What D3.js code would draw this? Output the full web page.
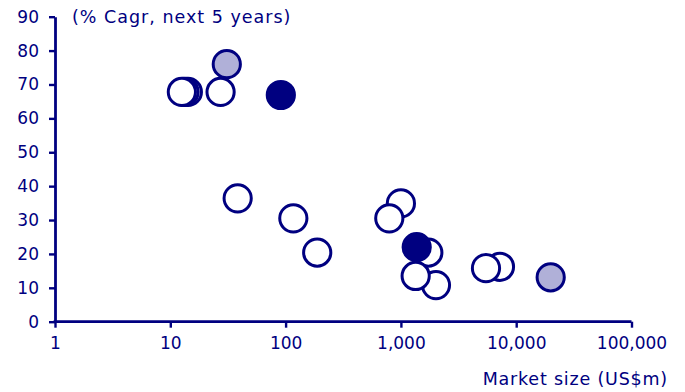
<!DOCTYPE html>
<html>
<head>
<meta charset="utf-8">
<script src="https://cdn.jsdelivr.net/npm/d3@7/dist/d3.min.js"></script>
<style>
  html, body { margin: 0; padding: 0; background: #fff; }
  svg { display: block; }
  text { font-family: "DejaVu Sans", Verdana, sans-serif; fill: #000080; }
</style>
</head>
<body>
<svg id="chart" width="685" height="392"></svg>
<script>
// Market size (US$m) and growth (% CAGR, next 5 years) per segment
const otherSize   = [12.6, 13.3, 14.2, 27.3, 38.4, 116.7, 188, 793, 1000, 1343, 1729, 2015, 5470, 7230];
const otherGrowth = [67.8, 67.8, 67.8, 67.8, 36.4, 30.5, 20.4, 30.5, 34.9, 13.5, 20.4, 10.8, 15.8, 16.2];

const focusSize   = [90.9, 1371];
const focusGrowth = [66.9, 22.0];

const mutedSize   = [30.9, 19910];
const mutedGrowth = [76.0, 13.1];

const xTicks = [1, 10, 100, 1000, 10000, 100000];
const yTicks = [0, 10, 20, 30, 40, 50, 60, 70, 80, 90];

const NAVY = "#000080";
const LAVENDER = "#b0b0d8";

const svg = d3.select("#chart");
const plotLeft = 55, plotRight = 631.5, plotTop = 16.7, plotBottom = 321.7;

const x = d3.scaleLog().domain([1, 100000]).range([plotLeft, plotRight]);
const y = d3.scaleLinear().domain([0, 90]).range([plotBottom, plotTop]);

const fmt = d3.format(",");

// axes
const xAxis = svg.append("g")
  .attr("transform", `translate(0,${plotBottom})`)
  .call(d3.axisBottom(x).tickValues(xTicks).tickFormat(fmt).tickSize(6).tickPadding(9).tickSizeOuter(0));
const yAxis = svg.append("g")
  .attr("transform", `translate(${plotLeft},0)`)
  .call(d3.axisLeft(y).tickValues(yTicks).tickSize(6).tickPadding(10).tickSizeOuter(0));

[xAxis, yAxis].forEach(g => {
  g.select(".domain").attr("stroke", NAVY).attr("stroke-width", 2.8);
  g.selectAll(".tick line").attr("stroke", NAVY).attr("stroke-width", 2.4);
  g.selectAll(".tick text")
    .attr("fill", NAVY)
    .style("font-family", '"DejaVu Sans", Verdana, sans-serif')
    .style("font-size", "17px");
});
// make the axis lines meet in the corner
xAxis.select(".domain").attr("d", `M${plotLeft - 1.4},0H${plotRight}`);

// titles
svg.append("text")
  .attr("x", 72).attr("y", 23)
  .style("font-size", "17.5px")
  .style("letter-spacing", "1px")
  .text("(% Cagr, next 5 years)");
svg.append("text")
  .attr("x", 668).attr("y", 385)
  .attr("text-anchor", "end")
  .style("font-size", "17.5px")
  .style("letter-spacing", "0.8px")
  .text("Market size (US$m)");

// points
const R = 13.6;
const other = d3.zip(otherSize, otherGrowth).sort((a, b) => b[0] - a[0]);
svg.append("g").selectAll("circle").data(other).join("circle")
  .attr("cx", d => x(d[0])).attr("cy", d => y(d[1])).attr("r", R)
  .attr("fill", "#fff").attr("stroke", NAVY).attr("stroke-width", 3);

svg.append("g").selectAll("circle").data(d3.zip(focusSize, focusGrowth)).join("circle")
  .attr("cx", d => x(d[0])).attr("cy", d => y(d[1])).attr("r", R)
  .attr("fill", NAVY).attr("stroke", NAVY).attr("stroke-width", 3);

svg.append("g").selectAll("circle").data(d3.zip(mutedSize, mutedGrowth)).join("circle")
  .attr("cx", d => x(d[0])).attr("cy", d => y(d[1])).attr("r", R)
  .attr("fill", LAVENDER).attr("stroke", NAVY).attr("stroke-width", 3);
</script>
</body>
</html>
